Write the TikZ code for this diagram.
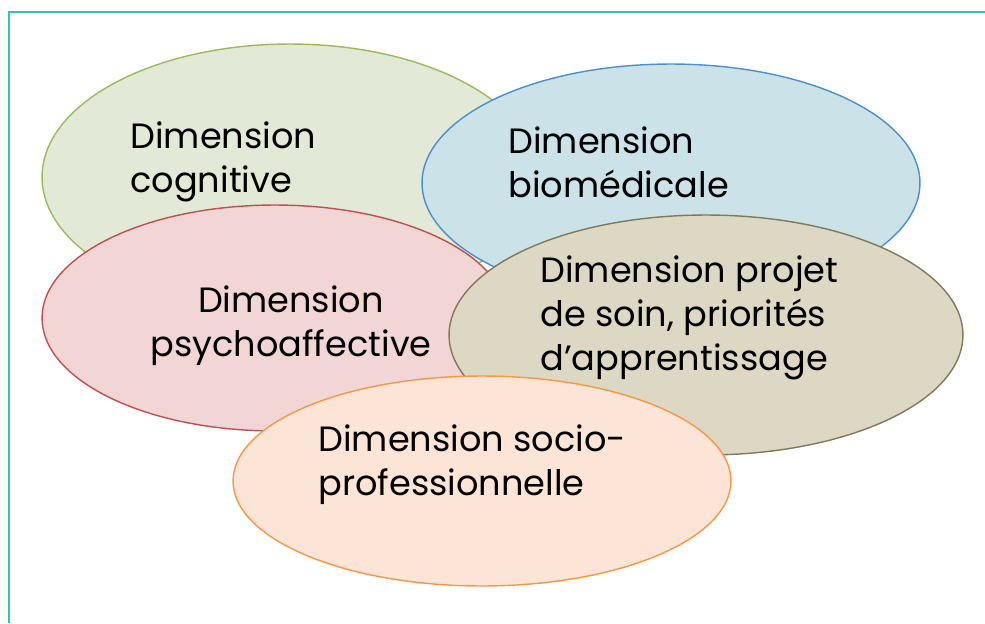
\documentclass[tikz,border=0pt]{standalone}
\usepackage{fontspec}
\setmainfont{Poppins}
\usetikzlibrary{shapes.geometric}

\definecolor{frameteal}{RGB}{56,190,190}
\definecolor{cogfill}{RGB}{226,233,214}
\definecolor{cogline}{RGB}{155,187,89}
\definecolor{biofill}{RGB}{203,226,233}
\definecolor{bioline}{RGB}{74,144,208}
\definecolor{psyfill}{RGB}{242,214,214}
\definecolor{psyline}{RGB}{192,80,77}
\definecolor{projfill}{RGB}{221,216,195}
\definecolor{projline}{RGB}{128,122,90}
\definecolor{socfill}{RGB}{252,228,214}
\definecolor{socline}{RGB}{247,150,70}

\begin{document}
\begin{tikzpicture}[x=0.02cm, y=-0.02cm,
    dim/.style ={ellipse, draw, line width=0.8pt, inner sep=0pt},
    lbl/.style ={anchor=base west, align=left, inner sep=0pt,
    font=\fontsize{20}{25}\selectfont}
    ]
    \useasboundingbox (0,0) rectangle (985,623);
    \draw[frameteal, line width=1.2pt] (9,623) -- (9,12) -- (985,12);

    % base anchor sits on the last line of each label
    \node[dim, draw=cogline, fill=cogfill, minimum width=9.92cm, minimum height=5.32cm] (cog) at (290,177) {};
    \node[lbl] (cogtxt) at (130,192) {Dimension\\cognitive};

    \node[dim, draw=bioline, fill=biofill, minimum width=9.96cm, minimum height=4.76cm] (bio) at (671,183) {};
    \node[lbl] (biotxt) at (508,197) {Dimension\\biomédicale};

    \node[dim, draw=psyline, fill=psyfill, minimum width=9.32cm, minimum height=4.52cm] (psy) at (275,318) {};
    \node[lbl, anchor=base, align=center] (psytxt) at (291,356) {Dimension\\psychoaffective};

    \node[dim, draw=projline, fill=projfill, minimum width=10.28cm, minimum height=4.8cm] (proj) at (706,335) {};
    \node[lbl] (projtxt) at (540,370) {Dimension projet\\de soin, priorités\\d’apprentissage};

    \node[dim, draw=socline, fill=socfill, minimum width=9.96cm, minimum height=4.2cm] (soc) at (482,481) {};
    \node[lbl] (soctxt) at (318,495) {Dimension socio-\\professionnelle};
\end{tikzpicture}
\end{document}
